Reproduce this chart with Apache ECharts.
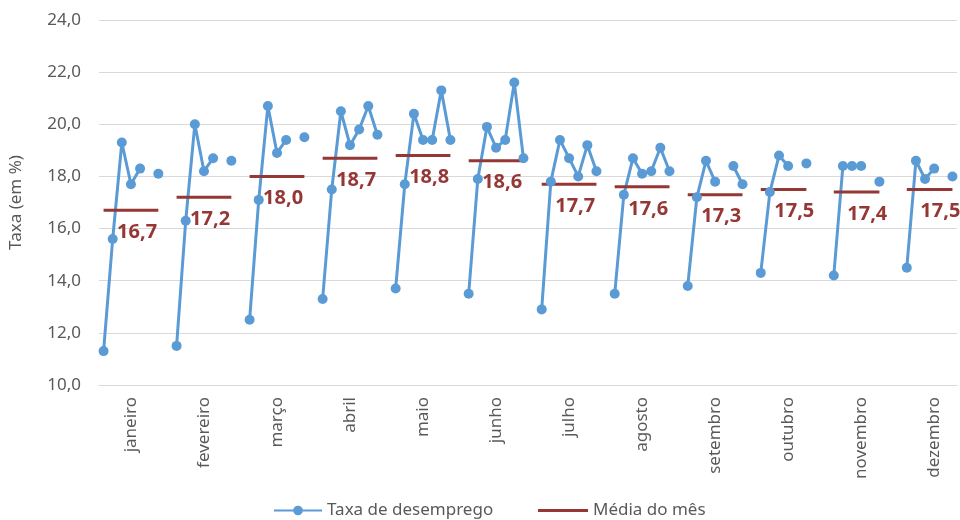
<!DOCTYPE html>
<html>
<head>
<meta charset="utf-8">
<script src="https://cdn.jsdelivr.net/npm/echarts@6/dist/echarts.min.js"></script>
<style>
html, body { margin: 0; padding: 0; background: #fff; }
#main { width: 960px; height: 520px; }
</style>
</head>
<body>
<div id="main"></div>
<script>
// meses do ano (eixo x)
var meses = ['janeiro', 'fevereiro', 'março', 'abril', 'maio', 'junho',
    'julho', 'agosto', 'setembro', 'outubro', 'novembro', 'dezembro'];

// taxa de desemprego por mês, um valor por ano (null = sem dado)
var taxa = [
    [11.3, 15.6, 19.3, 17.7, 18.3, null, 18.1],
    [11.5, 16.3, 20.0, 18.2, 18.7, null, 18.6],
    [12.5, 17.1, 20.7, 18.9, 19.4, null, 19.5],
    [13.3, 17.5, 20.5, 19.2, 19.8, 20.7, 19.6],
    [13.7, 17.7, 20.4, 19.4, 19.4, 21.3, 19.4],
    [13.5, 17.9, 19.9, 19.1, 19.4, 21.6, 18.7],
    [12.9, 17.8, 19.4, 18.7, 18.0, 19.2, 18.2],
    [13.5, 17.3, 18.7, 18.1, 18.2, 19.1, 18.2],
    [13.8, 17.2, 18.6, 17.8, null, 18.4, 17.7],
    [14.3, 17.4, 18.8, 18.4, null, 18.5],
    [14.2, 18.4, 18.4, 18.4, null, 17.8],
    [14.5, 18.6, 17.9, 18.3, null, 18.0]
];

// média do mês
var media = [16.7, 17.2, 18.0, 18.7, 18.8, 18.6, 17.7, 17.6, 17.3, 17.5, 17.4, 17.5];

var slots = 8;       // posições por mês (inclui separador)
var slotRotulo = 4;  // posição do rótulo da média

function fmt(v) {
    return v.toFixed(1).replace('.', ',');
}

var categorias = [];
var serieTaxa = [];
var serieMedia = [];
for (var i = 0; i < meses.length; i++) {
    var n = (i === meses.length - 1) ? taxa[i].length : slots;
    for (var j = 0; j < n; j++) {
        categorias.push(meses[i] + '|' + j);
        var v = j < taxa[i].length ? taxa[i][j] : null;
        serieTaxa.push(v);
        if (j < taxa[i].length) {
            if (j === slotRotulo) {
                serieMedia.push({ value: media[i], label: { show: true } });
            } else {
                serieMedia.push(media[i]);
            }
        } else {
            serieMedia.push(null);
        }
    }
}

var cinza = '#595959';
var fonte = '"Noto Sans", sans-serif';
var azul = '#5b9bd5';
var vermelho = '#953735';

var option = {
    animation: false,
    textStyle: { fontFamily: fonte },
    grid: {
        left: 98,
        right: 3,
        top: 20,
        bottom: 135
    },
    legend: [
        {
            left: 268,
            top: 497,
            itemWidth: 48,
            itemHeight: 12,
            textStyle: { color: cinza, fontSize: 17, fontFamily: fonte },
            data: ['Taxa de desemprego']
        },
        {
            left: 533,
            top: 497,
            itemWidth: 50,
            itemHeight: 3,
            textStyle: { color: cinza, fontSize: 17, fontFamily: fonte, padding: [0, 0, 0, 0] },
            data: [{ name: 'Média do mês', icon: 'rect' }]
        }
    ],
    xAxis: {
        type: 'category',
        data: categorias,
        axisLine: { lineStyle: { color: '#d9d9d9', width: 1 } },
        axisTick: { show: false },
        axisLabel: {
            interval: function (idx) { return idx % slots === 3; },
            rotate: 90,
            margin: 12,
            color: cinza,
            fontSize: 17,
            fontFamily: fonte,
            formatter: function (v) { return v.split('|')[0]; }
        }
    },
    yAxis: {
        type: 'value',
        min: 10,
        max: 24,
        interval: 2,
        name: 'Taxa (em %)',
        nameLocation: 'middle',
        nameGap: 74,
        nameTextStyle: { color: cinza, fontSize: 17, fontFamily: fonte },
        axisLine: { show: false },
        axisTick: { show: false },
        axisLabel: {
            color: cinza,
            fontSize: 17,
            margin: 18,
            fontFamily: fonte,
            formatter: function (v) { return fmt(v); }
        },
        splitLine: { lineStyle: { color: '#d9d9d9', width: 1 } }
    },
    series: [
        {
            name: 'Taxa de desemprego',
            type: 'line',
            data: serieTaxa,
            symbol: 'circle',
            symbolSize: 10,
            showAllSymbol: true,
            lineStyle: { color: azul, width: 3 },
            itemStyle: { color: azul }
        },
        {
            name: 'Média do mês',
            type: 'line',
            data: serieMedia,
            symbol: 'circle',
            symbolSize: 0,
            showSymbol: true,
            showAllSymbol: true,
            lineStyle: { color: vermelho, width: 3 },
            itemStyle: { color: vermelho },
            label: {
                show: false,
                position: 'bottom',
                distance: 12,
                offset: [-3, 0],
                color: vermelho,
                fontSize: 20,
                fontWeight: 'bold',
                fontFamily: fonte,
                formatter: function (p) { return fmt(p.value); }
            }
        }
    ]
};

var myChart = echarts.init(document.getElementById('main'));
myChart.setOption(option);
</script>
</body>
</html>
